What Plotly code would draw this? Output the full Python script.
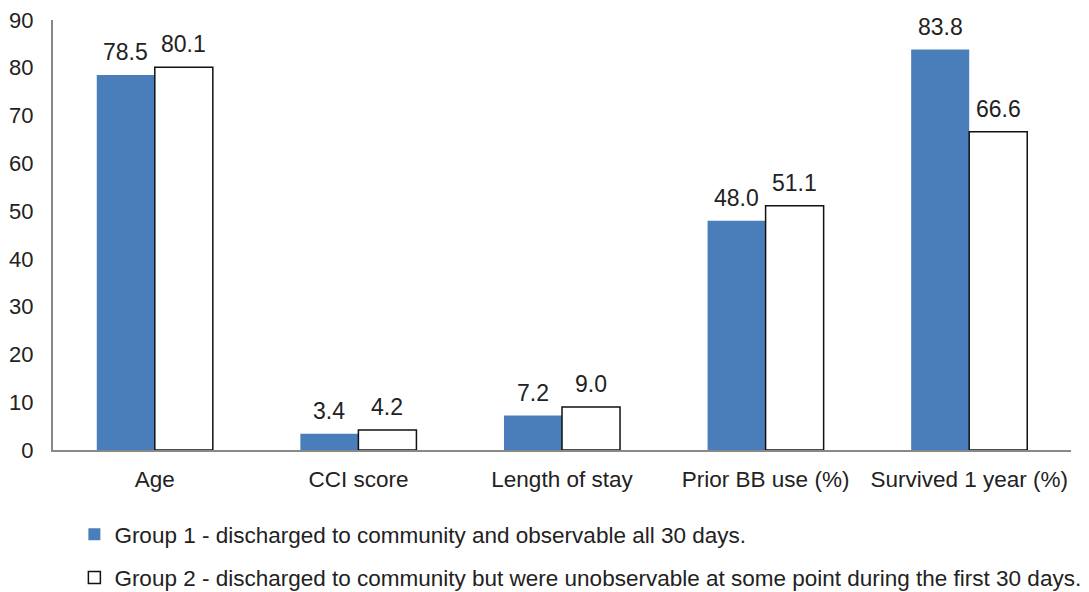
import plotly.graph_objects as go

categories = ["Age", "CCI score", "Length of stay", "Prior BB use (%)", "Survived 1 year (%)"]
group1_values = [78.5, 3.4, 7.2, 48.0, 83.8]
group2_values = [80.1, 4.2, 9.0, 51.1, 66.6]
group1_name = "Group 1 - discharged to community and observable all 30 days."
group2_name = "Group 2 - discharged to community but were unobservable at some point during the first 30 days."
y_ticks = [0, 10, 20, 30, 40, 50, 60, 70, 80, 90]

FONT = "Liberation Sans, Arial, sans-serif"
TEXT = "#222222"
BAR_GAP = 0.43
PLOT_W = 1089 - 53 - 18

fig = go.Figure()
fig.add_trace(go.Bar(
    x=categories, y=group1_values, name=group1_name,
    marker=dict(color="#4a7ebb", line=dict(width=0)),
    legendgroup="g1",
))
fig.add_trace(go.Bar(
    x=categories, y=group2_values, name=group2_name,
    marker=dict(color="white", line=dict(color="#111111", width=1.5)),
    legendgroup="g2",
))

# value labels above each bar, offset to the centre of its bar within the group
half_bar = PLOT_W / len(categories) * (1 - BAR_GAP) / 4
for series, shift in ((group1_values, -half_bar), (group2_values, half_bar)):
    for cat, val in zip(categories, series):
        fig.add_annotation(
            x=cat, y=val, xref="x", yref="y", text=f"{val:.1f}",
            showarrow=False, xshift=shift, yshift=8, yanchor="bottom",
            font=dict(size=23, color=TEXT, family=FONT),
        )

fig.update_layout(
    width=1089, height=592,
    margin=dict(l=53, r=18, t=20, b=142, autoexpand=False),
    paper_bgcolor="white", plot_bgcolor="white",
    barmode="group", bargap=BAR_GAP, bargroupgap=0,
    font=dict(family=FONT, color=TEXT, size=22),
    showlegend=True,
    legend=dict(
        orientation="v", x=0.021, xanchor="left", y=-0.147, yanchor="top",
        font=dict(size=22.5, color=TEXT, family=FONT),
        traceorder="grouped", tracegroupgap=11,
        bgcolor="rgba(0,0,0,0)",
    ),
    xaxis=dict(
        showline=True, linecolor="#888888", linewidth=2,
        ticks="", showgrid=False, tickfont=dict(size=22.5, color=TEXT),
        ticklabelstandoff=8,
    ),
    yaxis=dict(
        range=[0, 90], tickvals=y_ticks, showline=True, linecolor="#888888",
        linewidth=2, ticks="", showgrid=False, zeroline=False,
        tickfont=dict(size=22, color=TEXT), ticklabelstandoff=13,
    ),
)

fig.write_html("out.html")
